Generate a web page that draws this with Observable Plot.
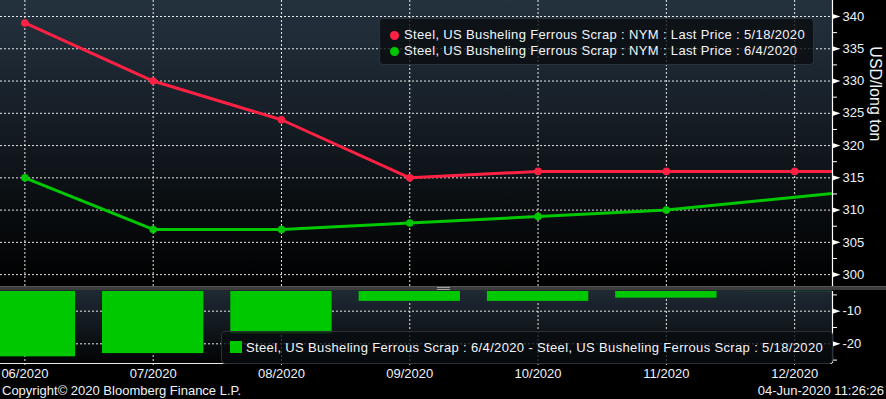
<!DOCTYPE html>
<html>
<head>
<meta charset="utf-8">
<script src="https://cdn.jsdelivr.net/npm/d3@7"></script>
<script src="https://cdn.jsdelivr.net/npm/@observablehq/plot@0.6"></script>
<style>
  html, body { margin: 0; padding: 0; background: #000; }
  #chart { position: relative; width: 886px; height: 399px; background: #000; overflow: hidden;
           font-family: "Liberation Sans", Arial, sans-serif; color: #f2f4f7; }
  .abs { position: absolute; }
  #bgTop { left: 0; top: 0; width: 832px; height: 286px;
           background: linear-gradient(to bottom, #24323e 0%, #18212a 35%, #0c1115 65%, #030405 92%, #000 100%); }
  #sep { left: 0; top: 286px; width: 886px; height: 4px; background: #3c3c3c; border-top: 1px solid #565656; box-sizing: border-box; }
  .grip { left: 437px; width: 13px; height: 1px; background: #a0a0a0; }
  #bgBot { left: 0; top: 290px; width: 832px; height: 73px;
           background: linear-gradient(to bottom, #1f2a33 0%, #11181e 50%, #020303 100%); }
  svg { position: absolute; left: 0; overflow: visible; }
  .legend { border: 1px solid #2b3237; border-radius: 4px; background: rgba(9, 12, 15, 0.78); box-sizing: border-box; }
  .lrow { position: absolute; white-space: nowrap; font-size: 13px; line-height: 16px; letter-spacing: 0.35px; color: #f4f6f8; }
  .ldot { position: absolute; width: 9px; height: 9px; border-radius: 50%; }
  .foot { position: absolute; font-size: 13px; line-height: 13px; white-space: nowrap; color: #eef2f6; }
</style>
</head>
<body>
<div id="chart">
  <div id="bgTop" class="abs"></div>
  <div id="bgBot" class="abs"></div>
  <div id="sep" class="abs"></div>
  <div class="abs grip" style="top:287px"></div>
  <div class="abs grip" style="top:289px"></div>
</div>
<script>
// ---- data ----
const months = ["06/2020", "07/2020", "08/2020", "09/2020", "10/2020", "11/2020", "12/2020", "01/2021"];
const price0518 = [339, 330, 324, 315, 316, 316, 316, 316];
const price0604 = [315, 307, 307, 308, 309, 310, 312, 314];
const markedMonths0604 = ["06/2020", "07/2020", "08/2020", "09/2020", "10/2020", "11/2020"];
const axisMonths = ["06/2020", "07/2020", "08/2020", "09/2020", "10/2020", "11/2020", "12/2020"];
const priceTicks = [300, 305, 310, 315, 320, 325, 330, 335, 340];
const priceMinorTicks = [302.5, 307.5, 312.5, 317.5, 322.5, 327.5, 332.5, 337.5];
const diffTicks = [-10, -20];
const diffMinorTicks = [-5, -15, -25];
const seriesNames = [
  "Steel, US Busheling Ferrous Scrap : NYM : Last Price : 5/18/2020",
  "Steel, US Busheling Ferrous Scrap : NYM : Last Price : 6/4/2020"
];
const diffName = "Steel, US Busheling Ferrous Scrap : 6/4/2020 - Steel, US Busheling Ferrous Scrap : 5/18/2020";
const axisTitle = "USD/long ton";
const footLeft = "Copyright\u00A9 2020 Bloomberg Finance L.P.";
const footRight = "04-Jun-2020 11:26:26";

// ---- styles ----
const RED = "#ff2143", GREEN = "#00c800", LABEL = "#eef3fa";
const FONT = "'Liberation Sans', Arial, sans-serif";
const xDomain = [-0.19, 6.295];
const barHalf = 0.395;

const rows = months.map((m, i) => ({
  i, month: m, p518: price0518[i], p604: price0604[i], diff: price0604[i] - price0518[i]
}));
const idx = m => months.indexOf(m);
const gridX = axisMonths.map(idx);

const arrowSymbol = {
  draw(ctx) { ctx.moveTo(-4, -2.6); ctx.lineTo(4, 0); ctx.lineTo(-4, 2.6); ctx.closePath(); }
};
const dash = {stroke: "#ffffff", strokeDasharray: "2,2", strokeOpacity: 0.9};

function rightAxis(major, minor) {
  return [
    Plot.axisY({anchor: "right", ticks: minor, tickSize: 4, tickFormat: () => "", stroke: "#ffffff", label: null}),
    Plot.axisY({anchor: "right", ticks: major, tickSize: 0, tickPadding: 10, tickFormat: d => String(d),
                fill: LABEL, fontSize: 13, label: null}),
    Plot.dot(major, {y: d => d, frameAnchor: "right", dx: 4, symbol: arrowSymbol, r: 3, fill: "#ffffff", stroke: null})
  ];
}

// ---- top panel ----
const topPlot = Plot.plot({
  width: 886, height: 286,
  marginTop: 0, marginBottom: 0, marginLeft: 0, marginRight: 54,
  style: {background: "transparent", fontFamily: FONT, fontSize: "13px", color: LABEL, overflow: "visible"},
  x: {type: "linear", domain: xDomain, axis: null},
  y: {domain: [298.16, 342.48], label: null},
  marks: [
    Plot.ruleX(gridX, {x: d => d, ...dash}),
    Plot.ruleY(priceTicks, {y: d => d, ...dash}),
    Plot.line(rows, {x: "i", y: "p518", stroke: RED, strokeWidth: 3, clip: true}),
    Plot.line(rows, {x: "i", y: "p604", stroke: GREEN, strokeWidth: 3, clip: true}),
    Plot.dot(rows, {x: "i", y: "p518", r: 3.8, fill: RED, stroke: null, clip: true}),
    Plot.dot(rows.filter(d => markedMonths0604.includes(d.month)), {x: "i", y: "p604", r: 3.8, fill: GREEN, stroke: null, clip: true}),
    Plot.ruleX([xDomain[1]], {x: d => d, stroke: "#ffffff", strokeWidth: 1.2}),
    ...rightAxis(priceTicks, priceMinorTicks),
    Plot.text([axisTitle], {frameAnchor: "right", dx: 43, dy: -2, rotate: 90, fontSize: 16, fill: LABEL})
  ]
});
topPlot.style.top = "0px";

// ---- bottom panel ----
const botPlot = Plot.plot({
  width: 886, height: 109,
  marginTop: 1, marginBottom: 36, marginLeft: 0, marginRight: 54,
  style: {background: "transparent", fontFamily: FONT, fontSize: "13px", color: LABEL, overflow: "visible"},
  x: {type: "linear", domain: xDomain},
  y: {domain: [-26.04, -3.96], label: null},
  marks: [
    Plot.ruleX(gridX, {x: d => d, insetBottom: -4, ...dash}),
    Plot.ruleY(diffTicks, {y: d => d, ...dash}),
    Plot.rect(rows, {x1: d => d.i - barHalf, x2: d => d.i + barHalf, y1: () => 0, y2: "diff", fill: GREEN, clip: true}),
    Plot.ruleY([-26.04], {y: d => d, stroke: "#e8e8e8", strokeWidth: 1.2}),
    Plot.ruleX([xDomain[1]], {x: d => d, stroke: "#ffffff", strokeWidth: 1.2}),
    ...rightAxis(diffTicks, diffMinorTicks),
    Plot.axisX({ticks: gridX, tickFormat: i => months[i], tickSize: 0, tickPadding: 5, fill: LABEL, fontSize: 13, label: null})
  ]
});
botPlot.style.top = "290px";

const chart = document.getElementById("chart");
chart.appendChild(topPlot);
chart.appendChild(botPlot);

// ---- legends & footer ----
function el(tag, cls, css, text) {
  const e = document.createElement(tag);
  if (cls) e.className = cls;
  Object.assign(e.style, css);
  if (text != null) e.textContent = text;
  return e;
}
const lg = el("div", "abs legend", {left: "379px", top: "18px", width: "435px", height: "47px"});
[RED, GREEN].forEach((c, k) => {
  lg.appendChild(el("div", "ldot", {left: "9.5px", top: (11.5 + k * 16.5) + "px", background: c}));
  lg.appendChild(el("div", "lrow", {left: "24px", top: (8 + k * 15.5) + "px"}, seriesNames[k]));
});
chart.appendChild(lg);

const lg2 = el("div", "abs legend", {left: "221px", top: "331px", width: "612px", height: "33px"});
lg2.appendChild(el("div", "abs", {left: "8px", top: "9px", width: "12px", height: "12px", background: GREEN}));
lg2.appendChild(el("div", "lrow", {left: "24px", top: "8px"}, diffName));
chart.appendChild(lg2);

chart.appendChild(el("div", "foot", {left: "2px", top: "384px"}, footLeft));
chart.appendChild(el("div", "foot", {right: "2px", top: "384px"}, footRight));
</script>
</body>
</html>
